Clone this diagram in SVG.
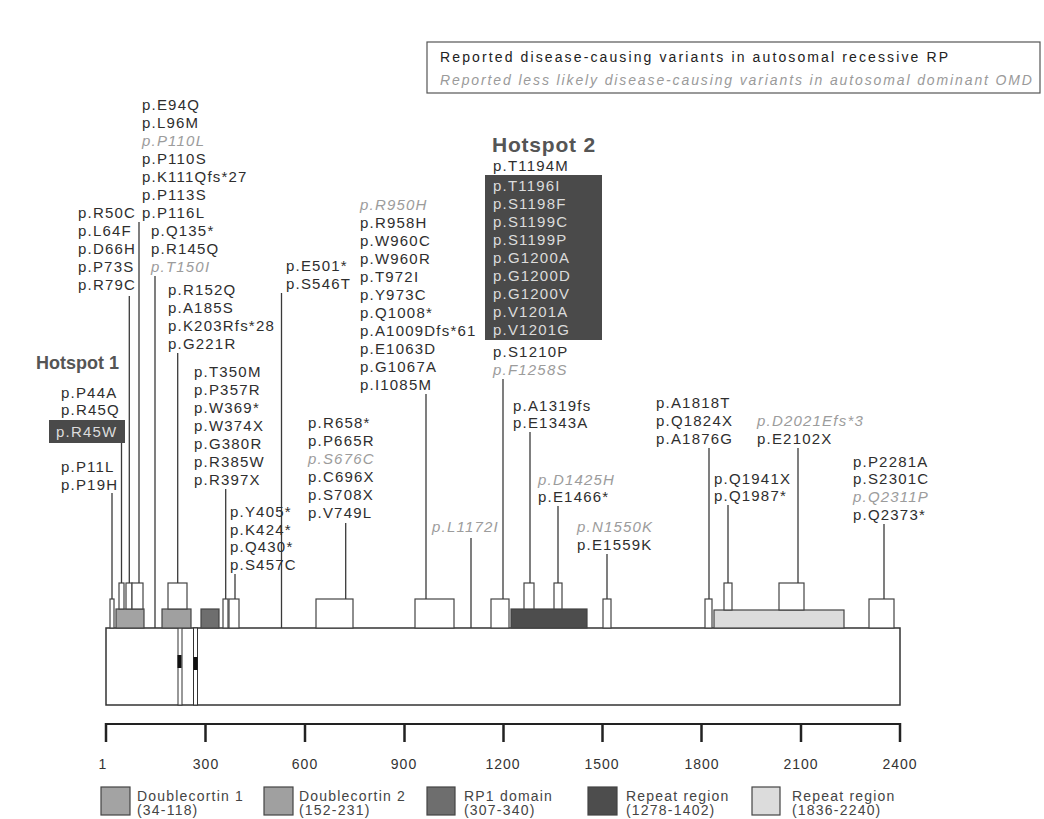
<svg xmlns="http://www.w3.org/2000/svg" width="1044" height="819" viewBox="0 0 1044 819">
<style>
text{font-family:"Liberation Sans",Arial,sans-serif}
.t{font-size:15px;fill:#2e2e2e;letter-spacing:1.2px}
.g{fill:#9c9c9c;font-style:italic}
.w{fill:#dcdcdc}
.hs{font-weight:bold;fill:#555}
.ax{font-size:14px;fill:#333;text-anchor:middle;letter-spacing:1px}
.lg{font-size:14px;fill:#444;letter-spacing:1.2px}
.ln{stroke:#3a3a3a;stroke-width:1.3;fill:none}
.bx{fill:#fff;stroke:#444;stroke-width:1.2}
.dm{stroke:#444;stroke-width:1.2}
</style>

<g id="legend-box">
<rect x="427" y="42" width="613" height="51" fill="#fff" stroke="#555" stroke-width="1.2"/>
<text x="440" y="62" textLength="508" lengthAdjust="spacing" style="font-size:14px;fill:#222">Reported disease-causing variants in autosomal recessive RP</text>
<text x="440" y="85" textLength="592" lengthAdjust="spacing" style="font-size:14px;fill:#9a9a9a;font-style:italic">Reported less likely disease-causing variants in autosomal dominant OMD</text>
</g>

<g id="protein">
<rect x="106" y="628" width="794" height="77" fill="#fff" stroke="#333" stroke-width="1.5"/>
<rect x="178" y="628" width="4" height="77" fill="#fff" stroke="#333" stroke-width="1"/>
<rect x="193.5" y="628" width="4" height="77" fill="#fff" stroke="#333" stroke-width="1"/>
<rect x="177.5" y="655" width="4" height="13" fill="#111"/>
<rect x="193.5" y="657" width="4" height="13" fill="#111"/>
</g>

<g id="domains">
<rect class="dm" x="116" y="609" width="28" height="19" fill="#a3a3a3"/>
<rect class="dm" x="162" y="609" width="29" height="19" fill="#a0a0a0"/>
<rect class="dm" x="201" y="609" width="18" height="19" fill="#6e6e6e"/>
<rect class="dm" x="511" y="609" width="76" height="19" fill="#4d4d4d"/>
<rect class="dm" x="714" y="610" width="130" height="18" fill="#dcdcdc"/>
</g>

<g id="variant-boxes">
<rect class="bx" x="110" y="599" width="4" height="29"/>
<rect class="bx" x="119" y="583" width="5" height="26"/>
<rect class="bx" x="126" y="583" width="6" height="26"/>
<rect class="bx" x="132" y="583" width="11" height="26"/>
<rect class="bx" x="168" y="583" width="19" height="26"/>
<rect class="bx" x="223" y="599" width="5" height="29"/>
<rect class="bx" x="229" y="599" width="10" height="29"/>
<rect class="bx" x="316" y="599" width="37" height="29"/>
<rect class="bx" x="415" y="599" width="39" height="29"/>
<rect class="bx" x="491" y="599" width="18" height="29"/>
<rect class="bx" x="524" y="583" width="10" height="26"/>
<rect class="bx" x="554" y="583" width="8" height="26"/>
<rect class="bx" x="603" y="599" width="8" height="29"/>
<rect class="bx" x="705" y="599" width="7" height="29"/>
<rect class="bx" x="724" y="583" width="8" height="27"/>
<rect class="bx" x="779" y="583" width="25" height="27"/>
<rect class="bx" x="869" y="599" width="25" height="29"/>
</g>

<g id="connectors">
<line class="ln" x1="112" y1="493" x2="112" y2="599"/>
<line class="ln" x1="121.5" y1="443" x2="121.5" y2="583"/>
<line class="ln" x1="129.3" y1="296" x2="129.3" y2="583"/>
<line class="ln" x1="139" y1="222" x2="139" y2="583"/>
<line class="ln" x1="155" y1="276" x2="155" y2="628"/>
<line class="ln" x1="177.7" y1="353" x2="177.7" y2="583"/>
<line class="ln" x1="225.7" y1="489" x2="225.7" y2="599"/>
<line class="ln" x1="235" y1="574" x2="235" y2="599"/>
<line class="ln" x1="281.5" y1="293" x2="281.5" y2="628"/>
<line class="ln" x1="345.7" y1="523" x2="345.7" y2="599"/>
<line class="ln" x1="426" y1="394" x2="426" y2="599"/>
<line class="ln" x1="471" y1="538" x2="471" y2="628"/>
<line class="ln" x1="503" y1="379" x2="503" y2="599"/>
<line class="ln" x1="530" y1="432" x2="530" y2="583"/>
<line class="ln" x1="558" y1="506" x2="558" y2="583"/>
<line class="ln" x1="607" y1="554" x2="607" y2="599"/>
<line class="ln" x1="709" y1="448" x2="709" y2="599"/>
<line class="ln" x1="728" y1="505" x2="728" y2="583"/>
<line class="ln" x1="798" y1="448" x2="798" y2="583"/>
<line class="ln" x1="884" y1="524" x2="884" y2="599"/>
</g>

<g id="hotspot1">
<text class="hs" x="119" y="369" text-anchor="end" style="font-size:18px">Hotspot 1</text>
<text class="t" x="61" y="398">p.P44A</text>
<text class="t" x="61" y="415">p.R45Q</text>
<rect x="49" y="420" width="76" height="23" fill="#4a4a4a"/>
<text class="t w" x="56" y="437">p.R45W</text>
</g>

<g id="grp-P11L">
<text class="t" x="61" y="472">p.P11L</text>
<text class="t" x="61" y="490">p.P19H</text>
</g>

<g id="grp-R50C">
<text class="t" x="78" y="218">p.R50C</text>
<text class="t" x="78" y="236">p.L64F</text>
<text class="t" x="78" y="254">p.D66H</text>
<text class="t" x="78" y="272">p.P73S</text>
<text class="t" x="78" y="290">p.R79C</text>
</g>

<g id="grp-E94Q">
<text class="t" x="142" y="110">p.E94Q</text>
<text class="t" x="142" y="128">p.L96M</text>
<text class="t g" x="142" y="146">p.P110L</text>
<text class="t" x="142" y="164">p.P110S</text>
<text class="t" x="142" y="182">p.K111Qfs*27</text>
<text class="t" x="142" y="200">p.P113S</text>
<text class="t" x="142" y="218">p.P116L</text>
</g>

<g id="grp-Q135">
<text class="t" x="151" y="236">p.Q135*</text>
<text class="t" x="151" y="254">p.R145Q</text>
<text class="t g" x="151" y="272">p.T150I</text>
</g>

<g id="grp-R152Q">
<text class="t" x="168" y="295">p.R152Q</text>
<text class="t" x="168" y="313">p.A185S</text>
<text class="t" x="168" y="331">p.K203Rfs*28</text>
<text class="t" x="168" y="349">p.G221R</text>
</g>

<g id="grp-T350M">
<text class="t" x="194" y="377">p.T350M</text>
<text class="t" x="194" y="395">p.P357R</text>
<text class="t" x="194" y="413">p.W369*</text>
<text class="t" x="194" y="431">p.W374X</text>
<text class="t" x="194" y="449">p.G380R</text>
<text class="t" x="194" y="467">p.R385W</text>
<text class="t" x="194" y="485">p.R397X</text>
</g>

<g id="grp-Y405">
<text class="t" x="230" y="517">p.Y405*</text>
<text class="t" x="230" y="535">p.K424*</text>
<text class="t" x="230" y="552">p.Q430*</text>
<text class="t" x="230" y="570">p.S457C</text>
</g>

<g id="grp-E501">
<text class="t" x="286" y="271">p.E501*</text>
<text class="t" x="286" y="289">p.S546T</text>
</g>

<g id="grp-R658">
<text class="t" x="308" y="428">p.R658*</text>
<text class="t" x="308" y="446">p.P665R</text>
<text class="t g" x="308" y="464">p.S676C</text>
<text class="t" x="308" y="482">p.C696X</text>
<text class="t" x="308" y="500">p.S708X</text>
<text class="t" x="308" y="518">p.V749L</text>
</g>

<g id="grp-R950H">
<text class="t g" x="360" y="210">p.R950H</text>
<text class="t" x="360" y="228">p.R958H</text>
<text class="t" x="360" y="246">p.W960C</text>
<text class="t" x="360" y="264">p.W960R</text>
<text class="t" x="360" y="282">p.T972I</text>
<text class="t" x="360" y="300">p.Y973C</text>
<text class="t" x="360" y="318">p.Q1008*</text>
<text class="t" x="360" y="336">p.A1009Dfs*61</text>
<text class="t" x="360" y="354">p.E1063D</text>
<text class="t" x="360" y="372">p.G1067A</text>
<text class="t" x="360" y="390">p.I1085M</text>
</g>

<g id="hotspot2">
<text class="hs" x="544" y="152" text-anchor="middle" style="font-size:21px;letter-spacing:0.8px">Hotspot 2</text>
<text class="t" x="493" y="171">p.T1194M</text>
<rect x="485" y="175" width="117" height="165" fill="#4a4a4a"/>
<text class="t w" x="493" y="191">p.T1196I</text>
<text class="t w" x="493" y="209">p.S1198F</text>
<text class="t w" x="493" y="227">p.S1199C</text>
<text class="t w" x="493" y="245">p.S1199P</text>
<text class="t w" x="493" y="263">p.G1200A</text>
<text class="t w" x="493" y="281">p.G1200D</text>
<text class="t w" x="493" y="299">p.G1200V</text>
<text class="t w" x="493" y="317">p.V1201A</text>
<text class="t w" x="493" y="335">p.V1201G</text>
<text class="t" x="493" y="357">p.S1210P</text>
<text class="t g" x="493" y="375">p.F1258S</text>
</g>

<g id="grp-A1319">
<text class="t" x="513" y="411">p.A1319fs</text>
<text class="t" x="513" y="428">p.E1343A</text>
</g>

<g id="grp-L1172I">
<text class="t g" x="432" y="532">p.L1172I</text>
</g>

<g id="grp-D1425H">
<text class="t g" x="538" y="485">p.D1425H</text>
<text class="t" x="538" y="502">p.E1466*</text>
</g>

<g id="grp-N1550K">
<text class="t g" x="577" y="532">p.N1550K</text>
<text class="t" x="577" y="550">p.E1559K</text>
</g>

<g id="grp-A1818T">
<text class="t" x="656" y="408">p.A1818T</text>
<text class="t" x="656" y="426">p.Q1824X</text>
<text class="t" x="656" y="444">p.A1876G</text>
</g>

<g id="grp-Q1941X">
<text class="t" x="714" y="484">p.Q1941X</text>
<text class="t" x="714" y="501">p.Q1987*</text>
</g>

<g id="grp-D2021">
<text class="t g" x="757" y="426">p.D2021Efs*3</text>
<text class="t" x="757" y="444">p.E2102X</text>
</g>

<g id="grp-P2281A">
<text class="t" x="853" y="467">p.P2281A</text>
<text class="t" x="853" y="484">p.S2301C</text>
<text class="t g" x="853" y="502">p.Q2311P</text>
<text class="t" x="853" y="520">p.Q2373*</text>
</g>

<g id="axis">
<line x1="106" y1="724" x2="900" y2="724" stroke="#222" stroke-width="2"/>
<g stroke="#222" stroke-width="2.5">
<line x1="106" y1="723" x2="106" y2="742"/>
<line x1="205.5" y1="723" x2="205.5" y2="742"/>
<line x1="305" y1="723" x2="305" y2="742"/>
<line x1="404.5" y1="723" x2="404.5" y2="742"/>
<line x1="503.5" y1="723" x2="503.5" y2="742"/>
<line x1="602.5" y1="723" x2="602.5" y2="742"/>
<line x1="701.5" y1="723" x2="701.5" y2="742"/>
<line x1="801" y1="723" x2="801" y2="742"/>
<line x1="900" y1="723" x2="900" y2="742"/>
</g>
<text class="ax" x="103" y="769">1</text>
<text class="ax" x="206" y="769">300</text>
<text class="ax" x="305" y="769">600</text>
<text class="ax" x="404" y="769">900</text>
<text class="ax" x="503" y="769">1200</text>
<text class="ax" x="602" y="769">1500</text>
<text class="ax" x="702" y="769">1800</text>
<text class="ax" x="801" y="769">2100</text>
<text class="ax" x="900" y="769">2400</text>
</g>

<g id="domain-legend">
<rect class="dm" x="101" y="787" width="29" height="28" fill="#a3a3a3"/>
<text class="lg" x="137" y="801">Doublecortin 1</text>
<text class="lg" x="137" y="815">(34-118)</text>
<rect class="dm" x="264" y="787" width="29" height="28" fill="#a0a0a0"/>
<text class="lg" x="299" y="801">Doublecortin 2</text>
<text class="lg" x="299" y="815">(152-231)</text>
<rect class="dm" x="427" y="787" width="28" height="28" fill="#6e6e6e"/>
<text class="lg" x="464" y="801">RP1 domain</text>
<text class="lg" x="464" y="815">(307-340)</text>
<rect class="dm" x="588" y="787" width="29" height="28" fill="#4d4d4d"/>
<text class="lg" x="626" y="801">Repeat region</text>
<text class="lg" x="626" y="815">(1278-1402)</text>
<rect class="dm" x="752" y="787" width="28" height="28" fill="#dcdcdc"/>
<text class="lg" x="792" y="801">Repeat region</text>
<text class="lg" x="792" y="815">(1836-2240)</text>
</g>
</svg>
